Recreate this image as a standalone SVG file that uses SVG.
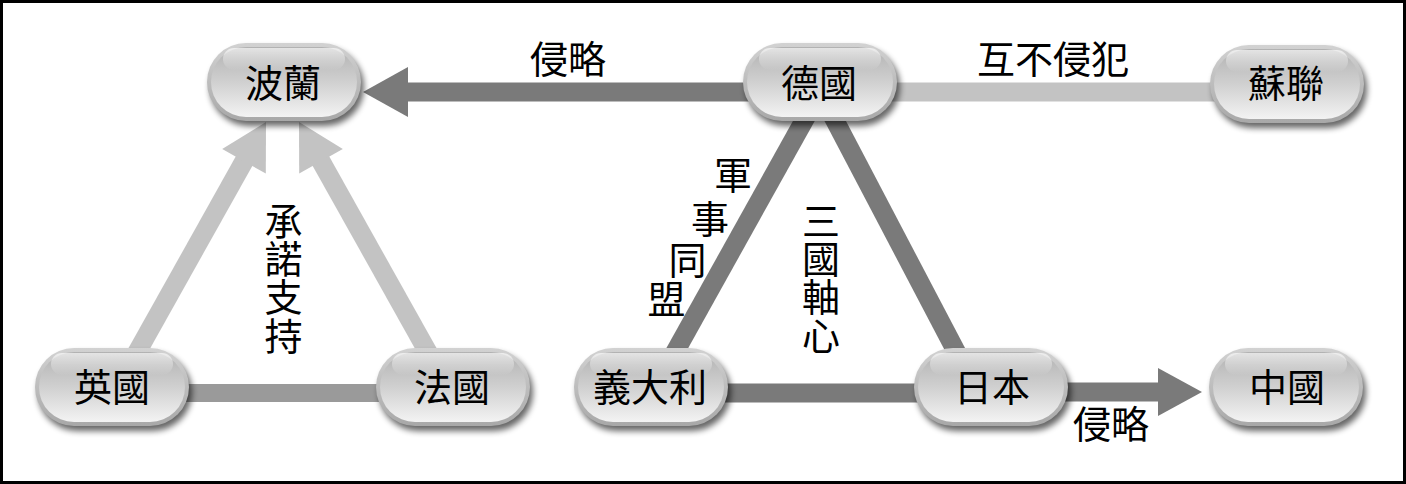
<svg xmlns="http://www.w3.org/2000/svg" xmlns:xlink="http://www.w3.org/1999/xlink" width="1406" height="484" viewBox="0 0 1406 484">
  <style>
    text { font-family: "Noto Sans CJK TC", "Noto Sans CJK SC", sans-serif; font-size: 38px; fill: #000; text-anchor: middle; }
    .dark { stroke: #7a7a7a; stroke-width: 19; fill: none; }
    .mid { stroke: #9a9a9a; stroke-width: 18; fill: none; }
    .light { stroke: #c3c3c3; stroke-width: 19; fill: none; }
    .darkhead { fill: #7a7a7a; }
    .lighthead { fill: #c3c3c3; }
  </style>
  <defs>
    <linearGradient id="gOuter" x1="0" y1="0" x2="0" y2="1">
      <stop offset="0" stop-color="#d2d2d2"/>
      <stop offset="1" stop-color="#a8a8a8"/>
    </linearGradient>
    <linearGradient id="gInner" x1="0" y1="0" x2="0" y2="1">
      <stop offset="0" stop-color="#b2b2b2"/>
      <stop offset="0.5" stop-color="#d0d0d0"/>
      <stop offset="1" stop-color="#f3f3f3"/>
    </linearGradient>
    <linearGradient id="gHi" x1="0" y1="0" x2="0" y2="1">
      <stop offset="0" stop-color="#ffffff" stop-opacity="0.65"/>
      <stop offset="1" stop-color="#ffffff" stop-opacity="0"/>
    </linearGradient>
    <filter id="blur" x="-20%" y="-30%" width="140%" height="160%">
      <feGaussianBlur stdDeviation="3"/>
    </filter>
    <g id="pill">
      <rect x="3" y="5" width="154" height="78" rx="39" fill="#000" opacity="0.6" filter="url(#blur)"/>
      <rect x="0" y="0" width="154" height="78" rx="39" fill="url(#gOuter)"/>
      <rect x="4" y="4" width="146" height="70" rx="35" fill="url(#gInner)"/>
      <rect x="16" y="5" width="122" height="22" rx="11" fill="url(#gHi)"/>
    </g>
  </defs>

  <rect x="0" y="0" width="1406" height="484" fill="#ffffff"/>
  <rect x="1.5" y="1.5" width="1403" height="481" fill="none" stroke="#000" stroke-width="3"/>

  <g id="connectors">
    <!-- Germany to Poland (invasion) -->
    <line class="dark" x1="820" y1="92" x2="406" y2="92"/>
    <polygon class="darkhead" points="408,67 363,92 408,117"/>
    <!-- Germany - USSR (non-aggression) -->
    <line class="light" x1="820" y1="92" x2="1287" y2="92"/>
    <!-- UK to Poland -->
    <line class="light" x1="112" y1="397" x2="245" y2="159.5"/>
    <polygon class="lighthead" points="265.8,173.5 266,122 222.2,149.1"/>
    <!-- France to Poland -->
    <line class="light" x1="453" y1="397" x2="320" y2="159.5"/>
    <polygon class="lighthead" points="299.2,173.5 299,122 342.8,149.1"/>
    <!-- UK - France -->
    <line class="mid" x1="112" y1="393" x2="453" y2="393"/>
    <!-- Germany - Italy -->
    <line class="dark" x1="820" y1="92" x2="650" y2="397"/>
    <!-- Germany - Japan -->
    <line class="dark" x1="820" y1="92" x2="980" y2="397"/>
    <!-- Italy - Japan -->
    <line class="dark" x1="651" y1="393" x2="991" y2="393"/>
    <!-- Japan to China -->
    <line class="dark" x1="991" y1="392" x2="1160" y2="392"/>
    <polygon class="darkhead" points="1158,368 1202,392 1158,416"/>
  </g>

  <g id="edge-labels">
    <text x="568" y="73">侵略</text>
    <text x="1053" y="73">互不侵犯</text>
    <text x="1111" y="438">侵略</text>
    <text x="283.5 283.5 283.5 283.5" y="235 273 311 350">承諾支持</text>
    <text x="821 821 821 821" y="235 273 311 350">三國軸心</text>
    <text x="733 710 687.5 666.5" y="189 233 274 313">軍事同盟</text>
  </g>

  <g id="node-poland" transform="translate(207,43)">
    <use xlink:href="#pill" href="#pill"/>
    <text x="76" y="54">波蘭</text>
  </g>
  <g id="node-germany" transform="translate(743,43)">
    <use xlink:href="#pill" href="#pill"/>
    <text x="76" y="54">德國</text>
  </g>
  <g id="node-ussr" transform="translate(1210,45)">
    <use xlink:href="#pill" href="#pill"/>
    <text x="76" y="52">蘇聯</text>
  </g>
  <g id="node-uk" transform="translate(35,348)">
    <use xlink:href="#pill" href="#pill"/>
    <text x="77" y="53">英國</text>
  </g>
  <g id="node-france" transform="translate(376,348)">
    <use xlink:href="#pill" href="#pill"/>
    <text x="76" y="53">法國</text>
  </g>
  <g id="node-italy" transform="translate(574,348)">
    <use xlink:href="#pill" href="#pill"/>
    <text x="76" y="53">義大利</text>
  </g>
  <g id="node-japan" transform="translate(914,348)">
    <use xlink:href="#pill" href="#pill"/>
    <text x="78" y="53">日本</text>
  </g>
  <g id="node-china" transform="translate(1209,348)">
    <use xlink:href="#pill" href="#pill"/>
    <text x="78" y="53">中國</text>
  </g>
</svg>
